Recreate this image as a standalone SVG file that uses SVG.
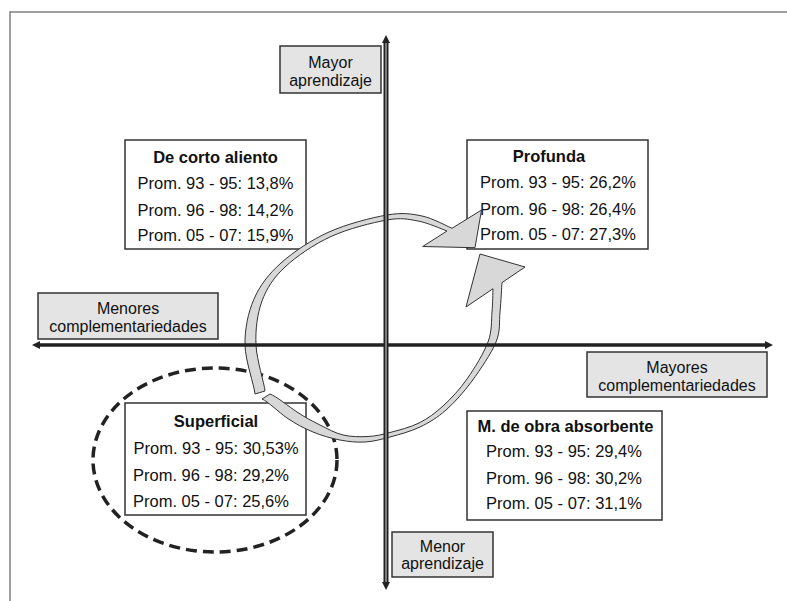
<svg xmlns="http://www.w3.org/2000/svg" width="787" height="601" viewBox="0 0 787 601">
<defs>
<style>
.lbl{font-family:"Liberation Sans",Arial,sans-serif;font-size:16.5px;fill:#111;text-anchor:middle}
.axl{font-size:16px}
.ttl{font-weight:bold}
.start{text-anchor:start}
.gbox{fill:#e4e4e4;stroke:#333;stroke-width:1.5}
.wbox{fill:#fff;stroke:#333;stroke-width:1.5}
.band{fill:#d8d8d8;stroke:#333;stroke-width:1;stroke-linejoin:miter}
.axis{stroke:#222;stroke-width:3.5;fill:none}
.axisv{stroke:#222;stroke-width:5;fill:none}
.axisv-in{stroke:#9a9a9a;stroke-width:1.5;fill:none}
.frame{stroke:#808080;stroke-width:1.5;fill:none}
.dash{fill:none;stroke:#222;stroke-width:3.5;stroke-dasharray:11 6}
</style>
<marker id="ah" viewBox="0 0 10 10" refX="0" refY="5" markerUnits="userSpaceOnUse" markerWidth="8" markerHeight="8" orient="auto-start-reverse">
<path d="M0,0 L10,5 L0,10 Z" fill="#222"/>
</marker>
</defs>
<rect width="787" height="601" fill="#fff"/>
<path class="frame" d="M10,601 V12 H787"/>

<g id="node-mayor-aprendizaje">
<rect class="gbox" x="280" y="46" width="101" height="47"/>
<text class="lbl axl" x="330.5" y="68">Mayor</text>
<text class="lbl axl" x="330.5" y="85.5">aprendizaje</text>
</g>
<g id="node-menores-complementariedades">
<rect class="gbox" x="38" y="293" width="180" height="46"/>
<text class="lbl axl" x="128" y="314">Menores</text>
<text class="lbl axl" x="128" y="331.5">complementariedades</text>
</g>
<g id="node-mayores-complementariedades">
<rect class="gbox" x="587" y="352" width="180" height="45"/>
<text class="lbl axl" x="677" y="373">Mayores</text>
<text class="lbl axl" x="677" y="390.5">complementariedades</text>
</g>
<g id="node-menor-aprendizaje">
<rect class="gbox" x="392" y="532" width="101" height="45"/>
<text class="lbl axl" x="442.5" y="551.5">Menor</text>
<text class="lbl axl" x="442.5" y="569">aprendizaje</text>
</g>

<g id="node-de-corto-aliento">
<rect class="wbox" x="125" y="140" width="181" height="109"/>
<text class="lbl ttl" x="215.5" y="162.5">De corto aliento</text>
<text class="lbl" x="215.5" y="189">Prom. 93 - 95: 13,8%</text>
<text class="lbl" x="215.5" y="216">Prom. 96 - 98: 14,2%</text>
<text class="lbl" x="215.5" y="241">Prom. 05 - 07: 15,9%</text>
</g>
<g id="node-profunda">
<rect class="wbox" x="467" y="140" width="181" height="109"/>
<text class="lbl ttl" x="549" y="162">Profunda</text>
<text class="lbl" x="558" y="188">Prom. 93 - 95: 26,2%</text>
<text class="lbl" x="558" y="215">Prom. 96 - 98: 26,4%</text>
<text class="lbl" x="558" y="240">Prom. 05 - 07: 27,3%</text>
</g>
<g id="node-superficial">
<rect class="wbox" x="125" y="403" width="181" height="112"/>
<text class="lbl ttl" x="216" y="426.5">Superficial</text>
<text class="lbl start" x="133.5" y="454">Prom. 93 - 95: 30,53%</text>
<text class="lbl start" x="133" y="481">Prom. 96 - 98: 29,2%</text>
<text class="lbl start" x="133" y="507">Prom. 05 - 07: 25,6%</text>
</g>
<g id="node-mano-de-obra-absorbente">
<rect class="wbox" x="467" y="411" width="195" height="109"/>
<text class="lbl ttl" x="565.5" y="431.5">M. de obra absorbente</text>
<text class="lbl" x="564" y="456.5">Prom. 93 - 95: 29,4%</text>
<text class="lbl" x="564" y="483.5">Prom. 96 - 98: 30,2%</text>
<text class="lbl" x="564" y="509">Prom. 05 - 07: 31,1%</text>
</g>

<g id="superficial-ellipse">
<ellipse class="dash" cx="215" cy="460" rx="122" ry="92"/>
</g>

<g id="connectors">
<path class="band" d="M255,394 C254.2,385 245.3,360.7 245,345 C244.7,329.3 248,312.7 254,299 C260,285.3 268.5,274.2 281,263 C293.5,251.8 311.3,240 329,232 C346.7,224 371.5,217.7 387,215 C402.5,212.3 411.2,213.8 422,216 C432.8,218.2 447,226.25 452,228.3 L481.5,210 L475,247.7 L422.7,246.5 L447,231 C442.2,229.3 428,222.8 418,221 C408,219.2 401.5,217.4 387,220 C372.5,222.6 348,228.7 331,236.5 C314,244.3 296.5,256.25 285,267 C273.5,277.75 266.8,288 262,301 C257.2,314 255.3,330 256,345 C256.7,360 264.3,383.3 265,391 Z"/>
<path class="band" d="M262,399 C267.8,401.3 278.8,412.3 287,418 C295.2,423.7 304.2,428.3 313,432 C321.8,435.7 331.3,438.3 340,440 C348.7,441.7 356.7,442.5 365,442 C373.3,441.5 380.8,439.5 390,437 C399.2,434.5 410.7,431.5 420,427 C429.3,422.5 437.3,417.7 446,410 C454.7,402.3 463.7,392.3 472,381 C480.3,369.7 491.3,353.5 496,342 C500.7,330.5 499,322.2 500,312 C501,301.8 501.7,286.2 502,282.6 L525,267 L480,254 L466,307 L493,288.7 C492.8,292.6 492.8,303.1 492,312 C491.2,320.9 492.2,330.8 488,342 C483.8,353.2 474.5,368.3 467,379 C459.5,389.7 451,398.7 443,406 C435,413.3 427.8,418.6 419,423 C410.2,427.4 398.5,430.25 390,432.5 C381.5,434.75 375.8,436.1 368,436.5 C360.2,436.9 351,436.9 343,435 C335,433.1 327.7,428.8 320,425 C312.3,421.2 305,417.3 297,412 C289,406.7 276.2,396.2 270,394 Z"/>
<line class="axis" x1="40" y1="345" x2="765" y2="345" marker-start="url(#ah)" marker-end="url(#ah)"/>
<line class="axisv" x1="386" y1="43" x2="386" y2="582" marker-start="url(#ah)" marker-end="url(#ah)"/>
<line class="axisv-in" x1="386" y1="43" x2="386" y2="582"/>
</g>
</svg>
